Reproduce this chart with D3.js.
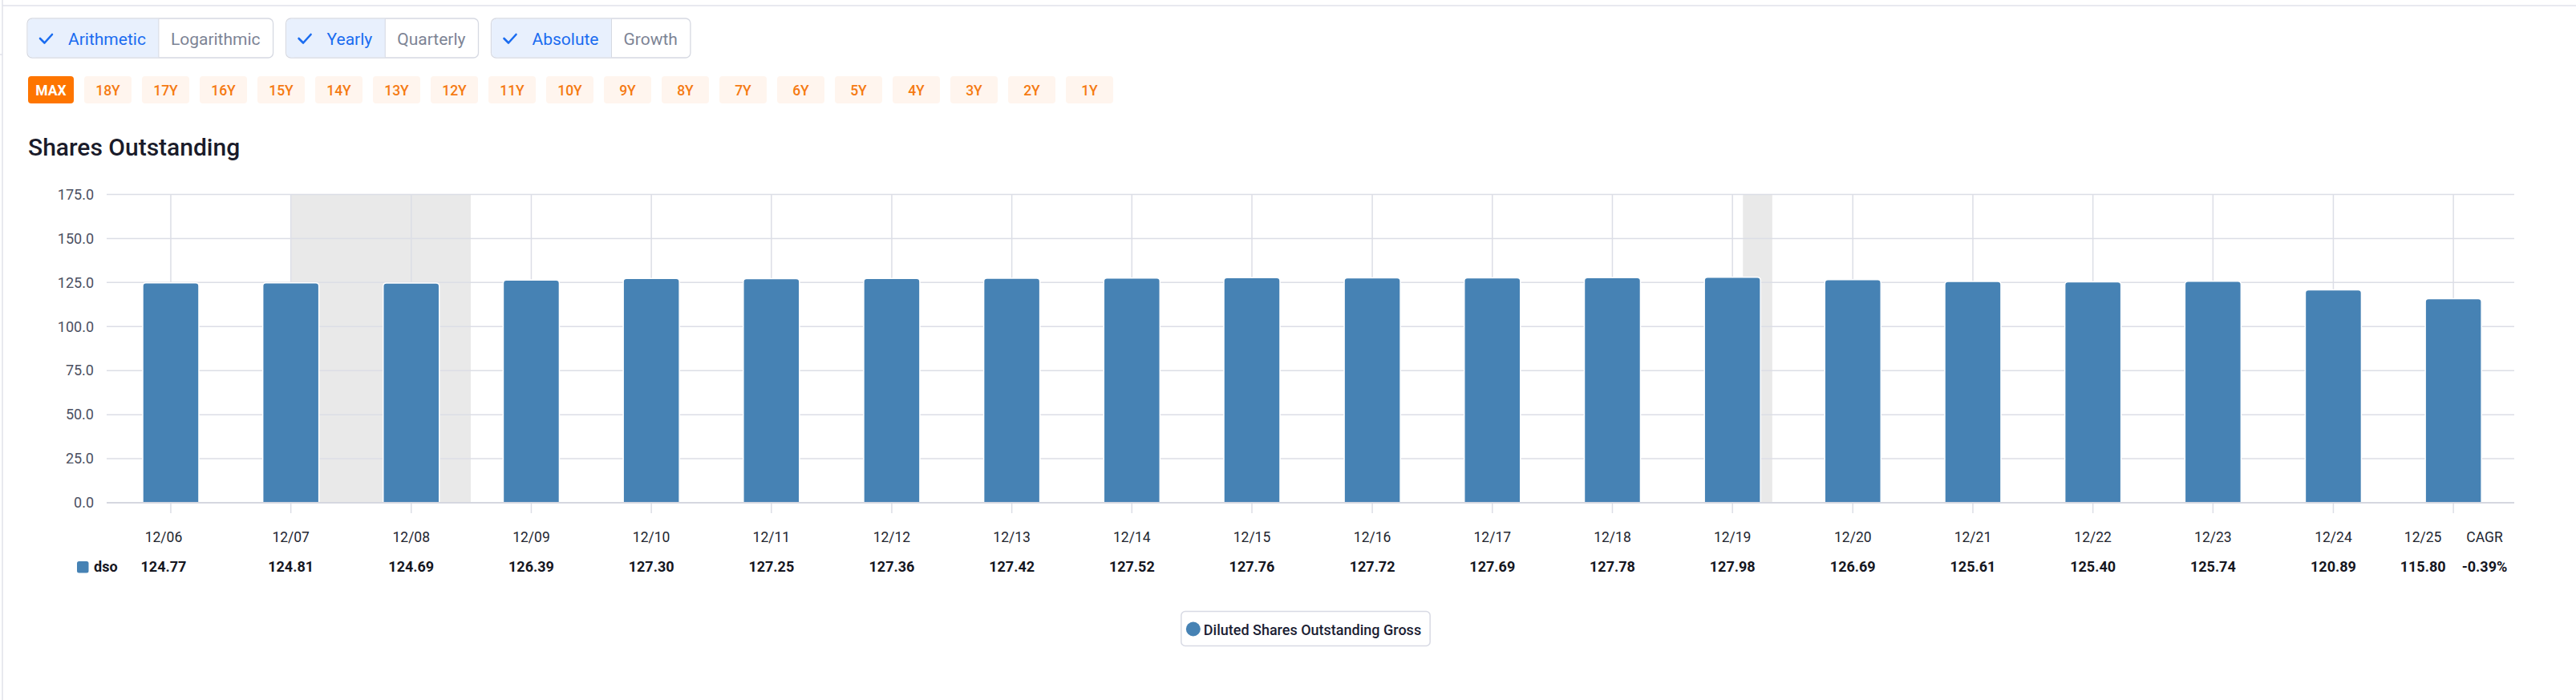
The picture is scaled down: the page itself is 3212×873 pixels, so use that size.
<!DOCTYPE html>
<html>
<head>
<meta charset="utf-8">
<script src="https://cdn.jsdelivr.net/npm/d3@7"></script>
<style>
  body { margin: 0; background: #fff; }
  svg { display: block; font-family: Roboto, "Noto Sans", sans-serif; }
</style>
</head>
<body>
<svg id="chart"></svg>
<script>
// data
const periodEnds = ['2006-12-31','2007-12-31','2008-12-31','2009-12-31','2010-12-31',
  '2011-12-31','2012-12-31','2013-12-31','2014-12-31','2015-12-31','2016-12-31',
  '2017-12-31','2018-12-31','2019-12-31','2020-12-31','2021-12-31','2022-12-31',
  '2023-12-31','2024-12-31','2025-12-31'];
const periodLabels = ['12/06','12/07','12/08','12/09','12/10','12/11','12/12','12/13',
  '12/14','12/15','12/16','12/17','12/18','12/19','12/20','12/21','12/22','12/23',
  '12/24','12/25'];
const dso = [124.77,124.81,124.69,126.39,127.30,127.25,127.36,127.42,127.52,127.76,
  127.72,127.69,127.78,127.98,126.69,125.61,125.40,125.74,120.89,115.80];
const cagr = '-0.39%';
const yTicks = [0,25,50,75,100,125,150,175];
const recessions = [['2008-01-01','2009-06-30'],['2020-02-01','2020-04-30']];
const ranges = ['MAX','18Y','17Y','16Y','15Y','14Y','13Y','12Y','11Y','10Y','9Y','8Y',
  '7Y','6Y','5Y','4Y','3Y','2Y','1Y'];
const toggles = [['Arithmetic','Logarithmic'],['Yearly','Quarterly'],['Absolute','Growth']];
const seriesName = 'Diluted Shares Outstanding Gross';
const seriesKey = 'dso';

const W = 3212, H = 873;
const barColor = '#4682b4';
const gridColor = '#dcdee6';

const svg = d3.select('#chart').attr('width', W).attr('height', H);

// page frame
svg.append('line').attr('x1', 3).attr('x2', W).attr('y1', 7).attr('y2', 7)
  .attr('stroke', '#e1e2ea').attr('stroke-width', 1.5);
svg.append('line').attr('x1', 3).attr('x2', 3).attr('y1', 0).attr('y2', H)
  .attr('stroke', '#e1e2ea').attr('stroke-width', 1.5);
svg.append('line').attr('x1', 0).attr('x2', 3).attr('y1', 68).attr('y2', 68)
  .attr('stroke', '#e1e2ea').attr('stroke-width', 1.5);

// ---- toggle buttons
const tg = svg.append('g');
let tx = 34;
toggles.forEach(pair => {
  const gx = tx;
  const grp = tg.append('g');
  const box = grp.append('rect').attr('y', 23).attr('height', 49).attr('rx', 6)
    .attr('fill', '#fff').attr('stroke', '#d6d9e2').attr('stroke-width', 1.3);
  grp.append('rect').attr('x', gx + 0.7).attr('y', 23.7).attr('width', 14)
    .attr('height', 47.6).attr('rx', 5.5).attr('fill', '#e8f0fd');
  const sel = grp.append('rect').attr('y', 23.7).attr('height', 47.6)
    .attr('fill', '#e8f0fd');
  // selected segment: check + label
  const t1 = grp.append('text').attr('x', gx + 51).attr('y', 55.5)
    .attr('font-size', 21).attr('fill', '#1a6cf0').text(pair[0]);
  const w1 = t1.node().getComputedTextLength();
  grp.append('path')
    .attr('d', `M${gx + 16},${48} L${gx + 21.5},${53.5} L${gx + 31},${43}`)
    .attr('fill', 'none').attr('stroke', '#1a6cf0').attr('stroke-width', 2.6)
    .attr('stroke-linecap', 'round').attr('stroke-linejoin', 'round');
  const seg1 = 51 + w1 + 16;
  const t2 = grp.append('text').attr('x', gx + seg1 + 15).attr('y', 55.5)
    .attr('font-size', 21).attr('fill', '#7d8495').text(pair[1]);
  const w2 = t2.node().getComputedTextLength();
  const total = seg1 + 15 + w2 + 16;
  box.attr('x', gx).attr('width', total);
  sel.attr('x', gx + 6).attr('width', seg1 - 6);
  grp.append('line').attr('x1', gx + seg1).attr('x2', gx + seg1)
    .attr('y1', 23.5).attr('y2', 71.5).attr('stroke', '#d6d9e2').attr('stroke-width', 1);
  tx = gx + total + 16;
});

// ---- period range buttons
const rg = svg.append('g');
let rx = 35;
ranges.forEach((r, i) => {
  const bw = i === 0 ? 57 : 59;
  rg.append('rect').attr('x', rx).attr('y', 95).attr('width', bw).attr('height', 34)
    .attr('rx', 4).attr('fill', i === 0 ? '#fe7500' : '#fff5ee');
  rg.append('text').attr('x', rx + bw / 2).attr('y', 118.5).attr('text-anchor', 'middle')
    .attr('font-size', 17.5).attr('font-weight', i === 0 ? 700 : 500)
    .attr('fill', i === 0 ? '#fff' : '#f57a12').text(r);
  rx += bw + 13;
});

// ---- title
svg.append('text').attr('x', 35).attr('y', 194).attr('font-size', 30)
  .attr('font-weight', 500).attr('fill', '#1a1b2a').text('Shares Outstanding');

// ---- scales
const dates = periodEnds.map(d => new Date(d + 'T00:00:00'));
const x = d3.scaleTime()
  .domain([d3.timeDay.offset(dates[0], -195), d3.timeDay.offset(dates[dates.length - 1], 185)])
  .range([133, 3135]);
const y = d3.scaleLinear().domain([0, 175]).range([627, 242.5]);
const barW = 70;

// recession shading
svg.append('g').selectAll('rect').data(recessions).join('rect')
  .attr('x', d => x(new Date(d[0] + 'T00:00:00')))
  .attr('width', d => x(new Date(d[1] + 'T00:00:00')) - x(new Date(d[0] + 'T00:00:00')))
  .attr('y', y(175)).attr('height', y(0) - y(175))
  .attr('fill', '#e9e9e9');

// horizontal grid
const [x0, x1] = x.range();
svg.append('g').selectAll('line').data(yTicks).join('line')
  .attr('x1', x0).attr('x2', x1).attr('y1', d => y(d)).attr('y2', d => y(d))
  .attr('stroke', gridColor).attr('stroke-width', 1.5);

// vertical grid + ticks
svg.append('g').selectAll('line').data(dates).join('line')
  .attr('x1', d => x(d)).attr('x2', d => x(d))
  .attr('y1', y(175)).attr('y2', y(0) + 13)
  .attr('stroke', gridColor).attr('stroke-width', 1.5);

// y axis labels
const yAxis = svg.append('g').attr('transform', `translate(${x0},0)`)
  .call(d3.axisLeft(y).tickValues(yTicks).tickFormat(d3.format('.1f'))
    .tickSize(0).tickPadding(16));
yAxis.select('.domain').remove();
yAxis.selectAll('text').attr('font-family', 'Roboto, sans-serif').attr('font-size', 18)
  .attr('fill', '#4b5061');

// bars with rounded tops
const r = 4;
function barPath(cx, top, bottom) {
  const l = cx - barW / 2, rr = cx + barW / 2;
  return `M${l},${bottom}V${top + r}Q${l},${top} ${l + r},${top}H${rr - r}` +
    `Q${rr},${top} ${rr},${top + r}V${bottom}Z`;
}
svg.append('g').selectAll('path').data(dso).join('path')
  .attr('d', (v, i) => barPath(x(dates[i]), y(v), y(0)))
  .attr('fill', barColor).attr('stroke', '#fff').attr('stroke-width', 1.5);

// x axis baseline
svg.append('line').attr('x1', x0).attr('x2', x1).attr('y1', y(0)).attr('y2', y(0))
  .attr('stroke', '#d5d7e0').attr('stroke-width', 2);

// ---- table rows under the axis
const labelX = (d, i) => {
  if (i === 0) return x(d) - 9;
  if (i === dates.length - 1) return x(d) - 38;
  return x(d);
};
const cagrX = x1 - 37;
const rowLabelY = 676, rowValueY = 713;

svg.append('g').selectAll('text').data(dates).join('text')
  .attr('x', labelX).attr('y', rowLabelY).attr('text-anchor', 'middle')
  .attr('font-size', 17.5).attr('fill', '#22252f')
  .text((d, i) => periodLabels[i]);
svg.append('text').attr('x', cagrX).attr('y', rowLabelY).attr('text-anchor', 'middle')
  .attr('font-size', 17.5).attr('fill', '#22252f').text('CAGR');

svg.append('g').selectAll('text').data(dso).join('text')
  .attr('x', (v, i) => labelX(dates[i], i)).attr('y', rowValueY).attr('text-anchor', 'middle')
  .attr('font-size', 18).attr('font-weight', 700).attr('fill', '#15161f')
  .text(v => v.toFixed(2));
svg.append('text').attr('x', cagrX).attr('y', rowValueY).attr('text-anchor', 'middle')
  .attr('font-size', 18).attr('font-weight', 700).attr('fill', '#15161f').text(cagr);

svg.append('rect').attr('x', 96).attr('y', 700).attr('width', 14.5).attr('height', 14.5)
  .attr('rx', 2.5).attr('fill', barColor);
svg.append('text').attr('x', 117).attr('y', rowValueY).attr('font-size', 18)
  .attr('font-weight', 700).attr('fill', '#15161f').text(seriesKey);

// ---- legend
const lg = svg.append('g');
const lgBox = lg.append('rect').attr('y', 762.5).attr('height', 43).attr('rx', 5)
  .attr('fill', '#fff').attr('stroke', '#d8dae4').attr('stroke-width', 1.5);
const lgText = lg.append('text').attr('y', 791.5).attr('font-size', 18)
  .attr('font-weight', 500).attr('fill', '#1b1d33').text(seriesName);
const tw = lgText.node().getComputedTextLength();
const boxW = 28 + tw + 11;
const boxX = (x0 + x1) / 2 - 6 - boxW / 2;
lgBox.attr('x', boxX).attr('width', boxW);
lg.append('circle').attr('cx', boxX + 15).attr('cy', 784.5).attr('r', 9).attr('fill', barColor);
lgText.attr('x', boxX + 28);
</script>
</body>
</html>
